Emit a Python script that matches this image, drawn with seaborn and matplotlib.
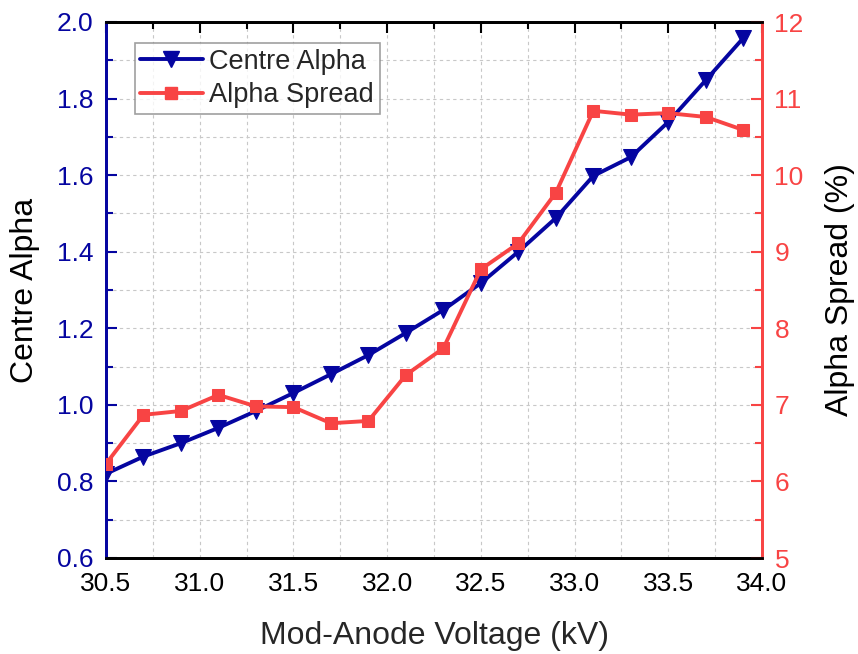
import numpy as np
import pandas as pd
import matplotlib
matplotlib.use("Agg")
import matplotlib.pyplot as plt
import seaborn as sns
from matplotlib.ticker import MultipleLocator, FormatStrFormatter
from matplotlib.lines import Line2D

voltage = [30.5, 30.7, 30.9, 31.1, 31.3, 31.5, 31.7, 31.9, 32.1, 32.3,
           32.5, 32.7, 32.9, 33.1, 33.3, 33.5, 33.7, 33.9]
centre_alpha = [0.82, 0.865, 0.90, 0.94, 0.984, 1.031, 1.08, 1.13, 1.188, 1.248,
                1.318, 1.40, 1.488, 1.598, 1.647, 1.739, 1.848, 1.958]
alpha_spread = [6.23, 6.87, 6.92, 7.13, 6.98, 6.97, 6.76, 6.79, 7.39, 7.74,
                8.77, 9.11, 9.77, 10.84, 10.79, 10.81, 10.76, 10.59]

df = pd.DataFrame({"V": voltage, "CA": centre_alpha, "AS": alpha_spread})

sns.set_style("white")
plt.rcParams['font.family'] = ['Liberation Sans', 'DejaVu Sans']

blue = "#0505A0"
red = "#F84444"

fig = plt.figure(figsize=(8.58, 6.54), dpi=100)
ax = fig.add_axes([106/858, 1-558/654, 656/858, 536/654])
ax2 = ax.twinx()

sns.lineplot(data=df, x="V", y="CA", ax=ax, color=blue, lw=2.8, marker="v",
             markersize=11.5, markeredgecolor=blue, zorder=3)
sns.lineplot(data=df, x="V", y="AS", ax=ax2, color=red, lw=2.8, marker="s",
             markersize=9, markeredgecolor=red, zorder=3)

ax.set_xlim(30.5, 34.0)
ax.set_ylim(0.6, 2.0)
ax2.set_ylim(5, 12)
ax.xaxis.set_major_locator(MultipleLocator(0.5))
ax.xaxis.set_minor_locator(MultipleLocator(0.25))
ax.xaxis.set_major_formatter(FormatStrFormatter("%.1f"))
ax.yaxis.set_major_locator(MultipleLocator(0.2))
ax.yaxis.set_minor_locator(MultipleLocator(0.1))
ax.yaxis.set_major_formatter(FormatStrFormatter("%.1f"))
ax2.yaxis.set_major_locator(MultipleLocator(1))
ax2.yaxis.set_minor_locator(MultipleLocator(0.5))

ax.grid(True, which="both", ls=(0, (3, 3)), color="#c8c8c8", lw=0.8)
ax.set_axisbelow(True)

ax.set_xlabel("Mod-Anode Voltage (kV)", fontsize=23, labelpad=18)
ax.set_ylabel("Centre Alpha", fontsize=23, labelpad=12)
ax2.set_ylabel("Alpha Spread (%)", fontsize=23, labelpad=15)

ax.tick_params(axis="x", which="both", direction="in", top=True, labelsize=19,
               pad=10, colors="black")
ax.tick_params(axis="x", which="major", length=8, width=1.5)
ax.tick_params(axis="x", which="minor", length=5, width=1.5)
ax.tick_params(axis="y", which="both", direction="in", colors=blue, labelsize=19,
               width=1.5, pad=9)
ax.tick_params(axis="y", which="major", length=8)
ax.tick_params(axis="y", which="minor", length=5)
ax2.tick_params(axis="y", which="both", direction="in", colors=red, labelsize=19,
                width=1.5, pad=9)
ax2.tick_params(axis="y", which="major", length=8)
ax2.tick_params(axis="y", which="minor", length=5)
ax.yaxis.label.set_color("black")
ax2.yaxis.label.set_color("black")

for a in (ax, ax2):
    for s in a.spines.values():
        s.set_linewidth(2)
        s.set_color("black")
    a.spines["left"].set_color(blue)
    a.spines["right"].set_color(red)

ax2.set_xlabel("")
handles = [Line2D([], [], color=blue, lw=2.8, marker="v", markersize=11.5),
           Line2D([], [], color=red, lw=2.8, marker="s", markersize=9)]
leg = ax.legend(handles, ["Centre Alpha", "Alpha Spread"], loc="upper left",
                bbox_to_anchor=(0.044, 0.96), fontsize=19.5, frameon=True,
                fancybox=False, edgecolor="#888888", handlelength=2.3,
                borderpad=0.2, labelspacing=0.28, handletextpad=0.25,
                borderaxespad=0)
leg.get_frame().set_linewidth(1.2)
leg.set_zorder(5)
if ax2.get_legend():
    ax2.get_legend().remove()

fig.savefig("out.png", dpi=100)
